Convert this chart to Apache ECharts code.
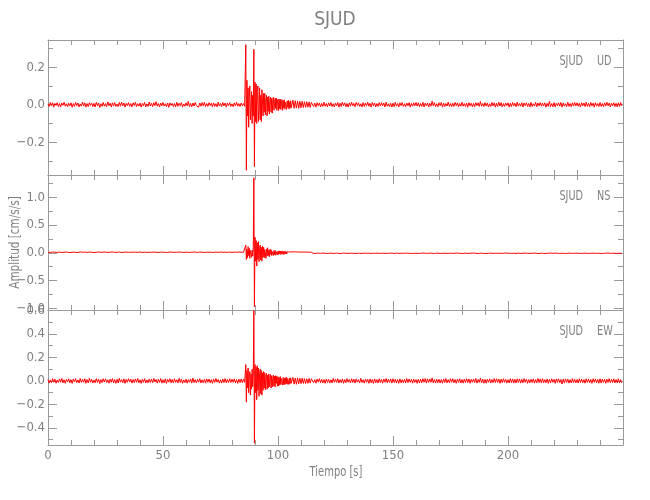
<!DOCTYPE html>
<html><head><meta charset="utf-8">
<script src="https://cdn.jsdelivr.net/npm/echarts@6/dist/echarts.min.js"></script>
<style>html,body{margin:0;padding:0;background:#fff}#c{width:650px;height:500px}</style>
</head><body><div id="c"></div>
<script>
const titleText = 'SJUD';
const stationName = 'SJUD';
const componentNames = ['UD', 'NS', 'EW'];
const xLabel = 'Tiempo [s]';
const yLabel = 'Amplitud [cm/s/s]';
const xRange = [0, 250];
const xInterval = 50;

// sampling of the three record segments (seconds)
const preStart = 0, eventStart = 86, postStart = 106;
const dtCoarse = 0.5, dtFine = 0.25;

const udRange = [-0.375, 0.345];
const nsRange = [-1.03, 1.40];
const ewRange = [-0.545, 0.604];
const udMajor = [-0.2, 0, 0.2];
const udMinor = [-0.3, -0.1, 0.1, 0.3];
const nsMajor = [-1.0, -0.5, 0, 0.5, 1.0];
const nsMinor = [-0.75, -0.25, 0.25, 0.75, 1.25];
const ewMajor = [-0.4, -0.2, 0, 0.2, 0.4, 0.6];
const ewMinor = [-0.5, -0.3, -0.1, 0.1, 0.3, 0.5];

// ---- UD ----
const udPre = [
0.004,-0.009,0.012,-0.006,0.010,-0.013,0.007,-0.004,0.011,-0.010,
0.006,-0.012,0.009,-0.003,0.013,-0.008,0.005,-0.011,0.008,-0.006,
0.010,-0.014,0.006,-0.009,0.012,-0.005,0.009,-0.012,0.004,-0.008,
0.014,-0.007,0.010,-0.013,0.006,-0.010,0.011,-0.004,0.008,-0.011,
0.007,-0.012,0.013,-0.006,0.009,-0.015,0.005,-0.009,0.012,-0.008,
0.006,-0.011,0.015,-0.005,0.008,-0.012,0.010,-0.007,0.011,-0.009,
0.003,-0.010,0.012,-0.008,0.014,-0.006,0.009,-0.013,0.007,-0.005,
0.011,-0.009,0.006,-0.012,0.010,-0.004,0.013,-0.010,0.005,-0.008,
0.009,-0.013,0.007,-0.006,0.012,-0.011,0.004,-0.009,0.014,-0.007,
0.008,-0.010,0.011,-0.005,0.016,-0.008,0.006,-0.012,0.009,-0.006,
0.012,-0.007,0.005,-0.011,0.009,-0.014,0.010,-0.004,0.007,-0.010,
0.006,-0.012,0.013,-0.009,0.008,-0.005,0.011,-0.013,0.004,-0.008,
0.010,-0.006,0.018,-0.010,0.007,-0.011,0.009,-0.007,0.012,-0.005,
0.005,-0.013,0.009,-0.008,0.011,-0.006,0.013,-0.010,0.006,-0.009,
0.011,-0.004,0.008,-0.012,0.010,-0.009,0.005,-0.011,0.014,-0.007,
0.007,-0.010,0.012,-0.006,0.009,-0.013,0.008,-0.005,0.011,-0.009,
0.004,-0.011,0.010,-0.007,0.013,-0.008,0.006,-0.010,0.009,-0.006,
0.006,-0.009
];
const udEvent = [
0.32,-0.35,0.13,-0.06,0.09,-0.12,0.04,0.10,-0.08,-0.03,
0.07,-0.10,0.05,-0.06,0.295,-0.33,0.12,-0.09,0.11,-0.10,
0.07,0.10,-0.09,-0.03,0.09,-0.08,0.05,-0.09,0.08,0.02,
-0.06,0.06,-0.04,0.06,-0.055,0.025,0.05,-0.06,0.04,-0.035,
0.045,-0.05,0.02,0.04,-0.04,0.035,-0.045,0.025,0.04,-0.03,
-0.035,0.035,-0.02,0.035,-0.03,0.015,0.03,-0.032,0.028,-0.022,
0.03,-0.026,0.01,0.027,-0.03,0.022,-0.018,0.026,-0.024,0.012,
0.022,-0.025,0.02,-0.014,0.024,-0.022,0.016,-0.019,0.021,-0.016
];
const udPost = [
-0.022,0.024,-0.019,0.021,-0.018,0.02,-0.02,0.018,
-0.016,0.018,-0.015,0.016,-0.014,0.016,-0.013,0.014,-0.015,0.012,
0.012,-0.010,0.008,-0.013,0.011,-0.006,0.009,-0.012,0.007,-0.009,
0.013,-0.008,0.006,-0.011,0.010,-0.007,0.012,-0.010,0.005,-0.012,
0.009,-0.006,0.011,-0.013,0.008,-0.009,0.014,-0.005,0.010,-0.011,
0.006,-0.012,0.010,-0.008,0.013,-0.006,0.007,-0.011,0.012,-0.004,
0.010,-0.009,0.005,-0.012,0.011,-0.010,0.008,-0.006,0.013,-0.008,
0.007,-0.013,0.012,-0.005,0.009,-0.011,0.006,-0.009,0.011,-0.007,
0.011,-0.006,0.009,-0.012,0.014,-0.008,0.005,-0.010,0.008,-0.013,
0.008,-0.010,0.013,-0.007,0.006,-0.012,0.010,-0.005,0.012,-0.009,
0.005,-0.011,0.009,-0.006,0.011,-0.013,0.007,-0.008,0.010,-0.006,
0.012,-0.007,0.010,-0.011,0.006,-0.009,0.013,-0.012,0.008,-0.005,
0.009,-0.012,0.007,-0.008,0.019,-0.006,0.011,-0.010,0.005,-0.011,
0.010,-0.005,0.012,-0.013,0.008,-0.010,0.006,-0.007,0.014,-0.009,
0.006,-0.011,0.008,-0.009,0.012,-0.005,0.010,-0.012,0.007,-0.008,
0.013,-0.008,0.006,-0.010,0.009,-0.013,0.011,-0.006,0.008,-0.011,
0.007,-0.012,0.011,-0.005,0.010,-0.009,0.017,-0.008,0.006,-0.010,
0.011,-0.007,0.009,-0.012,0.005,-0.010,0.012,-0.006,0.010,-0.013,
0.008,-0.009,0.013,-0.007,0.011,-0.012,0.006,-0.009,0.009,-0.005,
0.010,-0.013,0.007,-0.010,0.012,-0.006,0.008,-0.011,0.013,-0.008,
0.006,-0.008,0.011,-0.012,0.009,-0.005,0.010,-0.009,0.007,-0.012,
0.012,-0.010,0.005,-0.007,0.013,-0.011,0.009,-0.006,0.011,-0.008,
0.009,-0.006,0.010,-0.013,0.007,-0.009,0.018,-0.010,0.006,-0.011,
0.011,-0.012,0.008,-0.005,0.010,-0.008,0.012,-0.013,0.009,-0.007,
0.005,-0.010,0.013,-0.009,0.006,-0.011,0.010,-0.007,0.012,-0.006,
0.010,-0.008,0.007,-0.012,0.011,-0.006,0.009,-0.010,0.013,-0.009,
0.007,-0.011,0.012,-0.006,0.008,-0.013,0.011,-0.008,0.006,-0.010,
0.012,-0.009,0.006,-0.011,0.010,-0.007,0.013,-0.005,0.009,-0.012,
0.008,-0.006,0.011,-0.010,0.007,-0.012,0.010,-0.009,0.012,-0.007
];

// ---- NS ----
const nsPre = [
0.008,-0.012,0.005,-0.009,0.014,-0.006,0.010,-0.013,0.007,-0.004,
0.012,-0.008,0.006,-0.014,0.009,-0.005,0.013,-0.010,0.004,-0.011,
0.007,-0.013,0.011,-0.006,0.008,-0.012,0.005,-0.009,0.015,-0.007,
0.010,-0.005,0.013,-0.011,0.006,-0.008,0.012,-0.014,0.009,-0.006,
0.005,-0.010,0.009,-0.007,0.014,-0.012,0.008,-0.005,0.011,-0.013,
0.013,-0.009,0.006,-0.012,0.010,-0.004,0.015,-0.008,0.007,-0.010,
0.009,-0.014,0.012,-0.006,0.005,-0.011,0.010,-0.009,0.013,-0.007,
0.006,-0.008,0.011,-0.013,0.009,-0.005,0.012,-0.010,0.008,-0.012,
0.014,-0.007,0.005,-0.010,0.012,-0.013,0.007,-0.006,0.010,-0.009,
0.008,-0.011,0.013,-0.005,0.009,-0.012,0.006,-0.014,0.011,-0.008,
0.011,-0.006,0.008,-0.013,0.005,-0.009,0.014,-0.007,0.010,-0.012,
0.007,-0.012,0.010,-0.008,0.013,-0.006,0.009,-0.011,0.005,-0.010,
0.012,-0.009,0.006,-0.011,0.008,-0.014,0.011,-0.005,0.013,-0.007,
0.005,-0.013,0.014,-0.008,0.010,-0.007,0.006,-0.012,0.009,-0.011,
0.010,-0.007,0.009,-0.012,0.006,-0.010,0.013,-0.009,0.007,-0.005,
0.013,-0.011,0.007,-0.006,0.011,-0.013,0.008,-0.010,0.012,-0.008,
0.006,-0.009,0.012,-0.010,0.009,-0.007,0.014,-0.006,0.010,-0.012,
0.009,-0.008
];
const nsEvent = [
0.14,-0.12,0.06,-0.09,0.11,-0.05,0.08,-0.10,0.04,0.07,
-0.08,0.05,-0.06,0.09,1.35,-0.97,0.28,-0.15,0.22,-0.24,
0.18,-0.12,0.20,-0.16,0.08,0.14,-0.13,0.10,-0.15,0.12,
-0.08,0.10,-0.09,0.06,0.08,-0.10,0.07,-0.06,0.09,-0.05,
0.05,-0.07,0.06,-0.03,0.055,-0.05,0.02,0.045,-0.05,0.04,
-0.035,0.04,-0.045,0.02,0.035,-0.04,0.03,-0.03,0.035,-0.02,
0.03,-0.032,0.025,-0.015,0.028,-0.03,0.022,-0.025,0.03,-0.018,
0.02,-0.022,0.018,-0.016,0.02,-0.018,0.014,-0.019,0.017,-0.015
];
const nsPost = [
-0.016,0.017,-0.014,0.016,-0.013,0.015,-0.015,0.012,
-0.012,0.013,-0.011,0.012,-0.010,0.013,-0.009,0.011,-0.012,0.009,
0.010,-0.012,0.007,-0.009,0.013,-0.006,0.008,-0.011,0.012,-0.005,
0.006,-0.010,0.011,-0.013,0.009,-0.007,0.014,-0.008,0.005,-0.012,
0.012,-0.006,0.009,-0.010,0.007,-0.013,0.010,-0.005,0.013,-0.009,
0.008,-0.011,0.013,-0.007,0.005,-0.009,0.011,-0.012,0.007,-0.010,
0.011,-0.008,0.006,-0.013,0.012,-0.005,0.009,-0.010,0.014,-0.007,
0.005,-0.012,0.010,-0.008,0.013,-0.011,0.007,-0.006,0.010,-0.013,
0.013,-0.007,0.008,-0.011,0.006,-0.010,0.012,-0.009,0.008,-0.005,
0.009,-0.013,0.011,-0.006,0.010,-0.012,0.005,-0.008,0.013,-0.010,
0.007,-0.005,0.014,-0.009,0.008,-0.011,0.010,-0.013,0.006,-0.008,
0.012,-0.010,0.006,-0.012,0.011,-0.007,0.013,-0.005,0.009,-0.011,
0.008,-0.009,0.012,-0.005,0.007,-0.013,0.009,-0.010,0.011,-0.006,
0.010,-0.012,0.005,-0.010,0.014,-0.008,0.006,-0.011,0.012,-0.009,
0.006,-0.008,0.013,-0.011,0.009,-0.005,0.012,-0.007,0.008,-0.013,
0.013,-0.011,0.008,-0.006,0.010,-0.012,0.007,-0.009,0.011,-0.005,
0.009,-0.006,0.011,-0.013,0.005,-0.010,0.014,-0.008,0.010,-0.012,
0.011,-0.013,0.007,-0.008,0.012,-0.006,0.009,-0.011,0.006,-0.009,
0.005,-0.010,0.012,-0.007,0.009,-0.013,0.011,-0.005,0.013,-0.008,
0.012,-0.007,0.009,-0.011,0.013,-0.009,0.006,-0.012,0.008,-0.006,
0.008,-0.012,0.006,-0.009,0.011,-0.005,0.013,-0.010,0.007,-0.011,
0.010,-0.009,0.013,-0.006,0.008,-0.011,0.010,-0.013,0.012,-0.007,
0.006,-0.011,0.009,-0.012,0.014,-0.007,0.008,-0.006,0.010,-0.010,
0.013,-0.005,0.011,-0.010,0.007,-0.012,0.009,-0.008,0.005,-0.013,
0.009,-0.012,0.007,-0.006,0.012,-0.009,0.011,-0.011,0.013,-0.006,
0.011,-0.008,0.010,-0.013,0.006,-0.010,0.012,-0.007,0.009,-0.012,
0.007,-0.010,0.013,-0.009,0.010,-0.006,0.008,-0.012,0.011,-0.008,
0.012,-0.013,0.006,-0.011,0.009,-0.008,0.013,-0.005,0.007,-0.010,
0.008,-0.007,0.011,-0.010,0.012,-0.011,0.006,-0.009,0.010,-0.009
];

// ---- EW ----
const ewPre = [
0.012,-0.018,0.009,-0.014,0.020,-0.010,0.015,-0.019,0.008,-0.013,
0.017,-0.011,0.022,-0.016,0.010,-0.020,0.014,-0.009,0.018,-0.015,
0.011,-0.021,0.016,-0.008,0.019,-0.014,0.009,-0.017,0.021,-0.012,
0.015,-0.010,0.018,-0.020,0.012,-0.016,0.024,-0.011,0.014,-0.018,
0.009,-0.015,0.020,-0.012,0.016,-0.022,0.011,-0.014,0.019,-0.009,
0.018,-0.013,0.010,-0.019,0.015,-0.011,0.021,-0.016,0.012,-0.020,
0.014,-0.017,0.023,-0.010,0.011,-0.015,0.018,-0.021,0.013,-0.012,
0.020,-0.009,0.015,-0.018,0.012,-0.014,0.017,-0.011,0.022,-0.016,
0.010,-0.020,0.013,-0.012,0.019,-0.017,0.009,-0.015,0.016,-0.013,
0.016,-0.014,0.021,-0.009,0.013,-0.019,0.015,-0.012,0.020,-0.018,
0.011,-0.016,0.018,-0.021,0.014,-0.010,0.019,-0.015,0.012,-0.017,
0.019,-0.012,0.010,-0.016,0.022,-0.013,0.016,-0.020,0.009,-0.014,
0.015,-0.019,0.012,-0.011,0.017,-0.018,0.025,-0.013,0.011,-0.016,
0.013,-0.010,0.019,-0.017,0.010,-0.015,0.014,-0.019,0.018,-0.011,
0.017,-0.015,0.011,-0.020,0.016,-0.012,0.021,-0.010,0.013,-0.018,
0.010,-0.018,0.016,-0.013,0.020,-0.016,0.012,-0.014,0.019,-0.012,
0.014,-0.011,0.018,-0.017,0.012,-0.020,0.015,-0.013,0.017,-0.015,
0.016,-0.012
];
const ewEvent = [
0.14,-0.18,0.09,-0.06,0.11,-0.10,0.05,0.08,-0.12,0.06,
-0.07,0.10,-0.05,0.06,0.60,-0.53,0.14,-0.10,0.12,-0.16,
0.13,-0.08,0.11,-0.13,0.06,0.10,-0.11,0.09,-0.12,0.07,
-0.08,0.08,-0.06,0.07,-0.075,0.04,0.065,-0.07,0.05,-0.06,
0.06,-0.05,0.03,0.055,-0.06,0.045,-0.05,0.02,0.05,-0.045,
0.04,-0.05,0.045,-0.02,0.04,-0.045,0.035,-0.04,0.03,-0.035,
0.038,-0.03,0.02,0.035,-0.035,0.03,-0.032,0.025,-0.03,0.028,
-0.025,0.03,-0.028,0.02,0.026,-0.03,0.024,-0.022,0.027,-0.02
];
const ewPost = [
-0.028,0.03,-0.027,0.025,-0.028,0.026,-0.024,0.023,
-0.022,0.024,-0.021,0.02,-0.022,0.019,-0.02,0.021,-0.018,0.019,
0.018,-0.014,0.011,-0.019,0.016,-0.010,0.020,-0.015,0.013,-0.017,
0.012,-0.020,0.017,-0.012,0.014,-0.018,0.010,-0.016,0.021,-0.011,
0.016,-0.013,0.019,-0.017,0.011,-0.014,0.018,-0.020,0.012,-0.015,
0.020,-0.011,0.013,-0.016,0.019,-0.012,0.015,-0.018,0.017,-0.010,
0.011,-0.017,0.022,-0.013,0.010,-0.019,0.016,-0.011,0.014,-0.020,
0.017,-0.015,0.012,-0.021,0.018,-0.014,0.011,-0.017,0.019,-0.013,
0.013,-0.019,0.016,-0.010,0.021,-0.016,0.014,-0.012,0.017,-0.018,
0.019,-0.012,0.014,-0.018,0.012,-0.020,0.018,-0.015,0.010,-0.016,
0.015,-0.016,0.020,-0.014,0.017,-0.011,0.013,-0.019,0.016,-0.012,
0.011,-0.020,0.015,-0.017,0.014,-0.015,0.019,-0.010,0.020,-0.018,
0.018,-0.013,0.017,-0.011,0.026,-0.016,0.012,-0.018,0.015,-0.014,
0.014,-0.017,0.012,-0.019,0.016,-0.013,0.020,-0.016,0.011,-0.015,
0.020,-0.011,0.018,-0.015,0.013,-0.020,0.015,-0.012,0.019,-0.017,
0.012,-0.018,0.015,-0.013,0.019,-0.014,0.017,-0.019,0.014,-0.011,
0.016,-0.014,0.021,-0.018,0.012,-0.012,0.024,-0.015,0.016,-0.019,
0.013,-0.019,0.014,-0.011,0.018,-0.017,0.012,-0.014,0.020,-0.013,
0.019,-0.012,0.016,-0.020,0.015,-0.015,0.019,-0.011,0.013,-0.018,
0.011,-0.016,0.020,-0.014,0.017,-0.019,0.014,-0.017,0.018,-0.012,
0.017,-0.018,0.013,-0.016,0.020,-0.011,0.016,-0.020,0.012,-0.015,
0.014,-0.013,0.018,-0.019,0.012,-0.016,0.021,-0.013,0.017,-0.017,
0.020,-0.015,0.011,-0.014,0.016,-0.020,0.013,-0.016,0.019,-0.011,
0.013,-0.020,0.017,-0.012,0.018,-0.014,0.012,-0.026,0.015,-0.018,
0.018,-0.012,0.015,-0.018,0.011,-0.017,0.020,-0.013,0.014,-0.016,
0.012,-0.017,0.019,-0.013,0.016,-0.015,0.011,-0.019,0.018,-0.012,
0.016,-0.014,0.012,-0.020,0.019,-0.011,0.017,-0.016,0.013,-0.019,
0.019,-0.018,0.016,-0.012,0.013,-0.020,0.015,-0.012,0.020,-0.014,
0.014,-0.013,0.018,-0.016,0.012,-0.015,0.019,-0.017,0.011,-0.016
];

const FF = "'Liberation Sans Narrow','DejaVu Sans Condensed','Liberation Sans',sans-serif";
const AX = '#9a9a9a';
const TX = '#808080';
const gridTops = [40, 175, 310];

function fmt(v) {
  const s = Math.abs(v).toFixed(1);
  return v < -1e-9 ? '\u2212' + s : s;
}
function buildTrace(pre, ev, post) {
  return pre.map((v, i) => [preStart + i * dtCoarse, v])
    .concat(ev.map((v, i) => [eventStart + i * dtFine, v]))
    .concat(post.map((v, i) => [postStart + i * dtCoarse, v]));
}

function xAx(g, pos, labels) {
  return {
    type: 'value', gridIndex: g, position: pos, min: xRange[0], max: xRange[1], interval: xInterval,
    axisLine: { show: true, onZero: false, lineStyle: { color: AX, width: 1 } },
    axisTick: { show: true, inside: true, length: 9, lineStyle: { color: AX } },
    minorTick: { show: true, splitNumber: 5, length: 5, lineStyle: { color: AX } },
    axisLabel: { show: labels, color: TX, fontSize: 13, margin: 4, showMaxLabel: false, fontFamily: FF },
    splitLine: { show: false }, minorSplitLine: { show: false }
  };
}
function yAx(g, pos, range, ticks, len, labels, line) {
  return {
    type: 'value', gridIndex: g, position: pos, min: range[0], max: range[1],
    axisLine: { show: line, onZero: false, lineStyle: { color: AX, width: 1 } },
    axisTick: { show: true, inside: true, length: len, customValues: ticks, lineStyle: { color: AX } },
    axisLabel: { show: labels, customValues: ticks, color: TX, fontSize: 13, margin: 3, fontFamily: FF, formatter: fmt, showMinLabel: true, showMaxLabel: true },
    splitLine: { show: false }
  };
}

const ranges = [udRange, nsRange, ewRange];
const majors = [udMajor, nsMajor, ewMajor];
const minors = [udMinor, nsMinor, ewMinor];
const traces = [buildTrace(udPre, udEvent, udPost), buildTrace(nsPre, nsEvent, nsPost), buildTrace(ewPre, ewEvent, ewPost)];

const grids = gridTops.map(t => ({ left: 48, width: 575, top: t, height: 135 }));
const xAxes = [], yAxes = [];
for (let g = 0; g < 3; g++) {
  xAxes.push(xAx(g, 'bottom', g === 2));
  xAxes.push(xAx(g, 'top', false));
  yAxes.push(yAx(g, 'left', ranges[g], majors[g], 9, true, true));
  yAxes.push(yAx(g, 'left', ranges[g], minors[g], 5, false, false));
  yAxes.push(yAx(g, 'right', ranges[g], majors[g], 9, false, true));
  yAxes.push(yAx(g, 'right', ranges[g], minors[g], 5, false, false));
}

const series = traces.map((data, g) => ({
  type: 'line', xAxisIndex: g * 2, yAxisIndex: g * 4,
  data: data,
  showSymbol: false, symbol: 'none', sampling: null, clip: false, silent: true,
  lineStyle: { color: '#ff0000', width: 1 }
}));

const graphic = [
  { type: 'text', x: 335, y: 20, style: { text: titleText, fill: TX, font: "19px " + FF, textAlign: 'center', textVerticalAlign: 'middle' } },
  { type: 'text', x: 15, y: 242.5, rotation: Math.PI / 2, scaleX: 0.83, style: { text: yLabel, fill: TX, font: "14px " + FF, textAlign: 'center', textVerticalAlign: 'middle' } },
  { type: 'text', x: 336, y: 472, scaleX: 0.79, style: { text: xLabel, fill: TX, font: "14px " + FF, textAlign: 'center', textVerticalAlign: 'middle' } }
];
gridTops.forEach((t, g) => {
  graphic.push({ type: 'text', x: 583, y: t + 21.5, scaleX: 0.77, style: { text: stationName, fill: TX, font: "14px " + FF, textAlign: 'right', textVerticalAlign: 'middle' } });
  graphic.push({ type: 'text', x: 597, y: t + 21.5, scaleX: 0.77, style: { text: componentNames[g], fill: TX, font: "14px " + FF, textAlign: 'left', textVerticalAlign: 'middle' } });
});

const chart = echarts.init(document.getElementById('c'), null, { renderer: 'canvas' });
chart.setOption({
  animation: false,
  backgroundColor: '#ffffff',
  grid: grids,
  xAxis: xAxes,
  yAxis: yAxes,
  series: series,
  graphic: graphic
});
</script>
</body></html>
